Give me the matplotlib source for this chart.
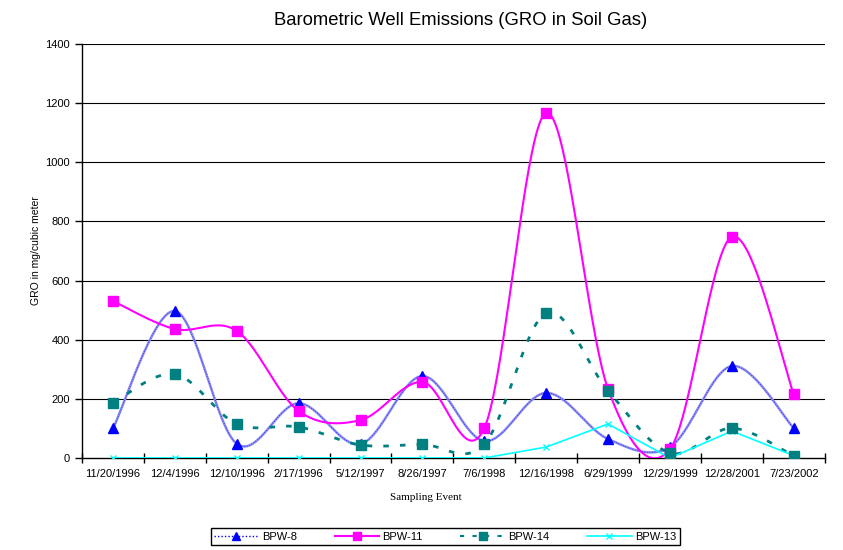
import matplotlib.pyplot as plt
import numpy as np
from matplotlib.lines import Line2D

plt.rcParams["font.family"] = ["Liberation Sans", "DejaVu Sans"]

# Sampling events (category axis)
events = ["11/20/1996", "12/4/1996", "12/10/1996", "2/17/1996", "5/12/1997",
          "8/26/1997", "7/6/1998", "12/16/1998", "6/29/1999", "12/29/1999",
          "12/28/2001", "7/23/2002"]

# GRO in mg/cubic meter
bpw8 = [100, 497, 48, 185, 47, 277, 57, 220, 64, 37, 311, 101]
bpw11 = [531, 436, 430, 159, 128, 257, 101, 1167, 233, 30, 748, 216]
bpw14 = [186, 284, 115, 105, 44, 46, 47, 490, 227, 17, 101, 7]
bpw13 = [0, 0, 0, 0, 0, 0, 0, 37, 115, 0, 91, 8]

y_ticks = [0, 200, 400, 600, 800, 1000, 1200, 1400]


# Excel-style smoothed line (Catmull-Rom bezier through the points)
def smooth(values, n=40):
    y = np.asarray(values, dtype=float)
    x = np.arange(len(y), dtype=float)
    px = np.concatenate([[x[0]], x, [x[-1]]])
    py = np.concatenate([[y[0]], y, [y[-1]]])
    t = np.linspace(0, 1, n)
    xs, ys = [], []
    for i in range(len(y) - 1):
        p0 = np.array([px[i], py[i]])
        p1 = np.array([px[i + 1], py[i + 1]])
        p2 = np.array([px[i + 2], py[i + 2]])
        p3 = np.array([px[i + 3], py[i + 3]])
        c1 = p1 + (p2 - p0) / 6
        c2 = p2 - (p3 - p1) / 6
        b = ((1 - t) ** 3)[:, None] * p1 + (3 * (1 - t) ** 2 * t)[:, None] * c1 \
            + (3 * (1 - t) * t ** 2)[:, None] * c2 + (t ** 3)[:, None] * p2
        xs.extend(b[:, 0])
        ys.extend(b[:, 1])
    return np.array(xs), np.array(ys)


fig = plt.figure(figsize=(8.43, 5.5), dpi=100)
ax = fig.add_axes([0.0973, 0.1673, 0.881, 0.7527])

x = np.arange(len(events))

for v in y_ticks[1:]:
    ax.axhline(v, color="black", lw=0.8, zorder=1)

# BPW-8: pale blue smoothed line with blue dotted overlay
sx, sy = smooth(bpw8)
ax.plot(sx, sy, color="#8c8cf0", lw=1.8, zorder=2)
ax.plot(sx, sy, color="#2020ff", lw=0.6, ls=(0, (1, 2)), zorder=2)
ax.plot(x, bpw8, ls="none", marker="^", ms=7, color="#0000ff", zorder=5)

# BPW-11: magenta smoothed
sx, sy = smooth(bpw11)
ax.plot(sx, sy, color="#ff00ff", lw=1.5, zorder=3)
ax.plot(x, bpw11, ls="none", marker="s", ms=7, color="#ff00ff", zorder=5)

# BPW-14: teal dashed smoothed
sx, sy = smooth(bpw14)
ax.plot(sx, sy, color="#008080", lw=2, ls=(0, (2, 4)), zorder=3)
ax.plot(x, bpw14, ls="none", marker="s", ms=7, color="#008080", zorder=5)

# BPW-13: cyan straight
ax.plot(x, bpw13, color="#00ffff", lw=1.2, marker="x", ms=5, mew=1, zorder=4)

ax.set_xlim(-0.5, len(events) - 0.5)
ax.set_ylim(0, 1400)
ax.set_yticks(y_ticks)
ax.set_xticks(x)
ax.set_xticklabels(events)
ax.set_xticks(np.arange(-0.5, len(events)), minor=True)
ax.tick_params(axis="x", which="major", length=0, labelsize=8, pad=8)
ax.tick_params(axis="x", which="minor", direction="inout", length=7, width=1)
ax.tick_params(axis="y", labelsize=8, direction="out", length=5, width=1)

for side in ["top", "right"]:
    ax.spines[side].set_visible(False)
ax.spines["left"].set_linewidth(1)
ax.spines["bottom"].set_linewidth(1)

ax.set_ylabel("GRO in mg/cubic meter", fontsize=7.5, labelpad=3)
fig.text(0.505, 0.09, "Sampling Event", ha="center", fontsize=8,
         family=["Liberation Serif", "DejaVu Serif"])
fig.text(0.546, 0.9636, "Barometric Well Emissions (GRO in Soil Gas)",
         ha="center", va="center", fontsize=13.3)

handles = [
    Line2D([], [], color="#0000ff", lw=1, ls=(0, (1, 1.5)), marker="^", ms=6),
    Line2D([], [], color="#ff00ff", lw=1.5, marker="s", ms=6),
    Line2D([], [], color="#008080", lw=1.5, ls=(0, (2, 4)), marker="s", ms=6),
    Line2D([], [], color="#00ffff", lw=1.2, marker="x", ms=5),
]
leg = fig.legend(handles, ["BPW-8", "BPW-11", "BPW-14", "BPW-13"],
                 loc="center", bbox_to_anchor=(0.528, 0.024), ncol=4,
                 fontsize=8, handlelength=4, columnspacing=3.4,
                 fancybox=False, edgecolor="black", framealpha=1,
                 borderpad=0.3, handletextpad=0.3, borderaxespad=0)
leg.get_frame().set_linewidth(1)

fig.savefig("out.png", dpi=100)
